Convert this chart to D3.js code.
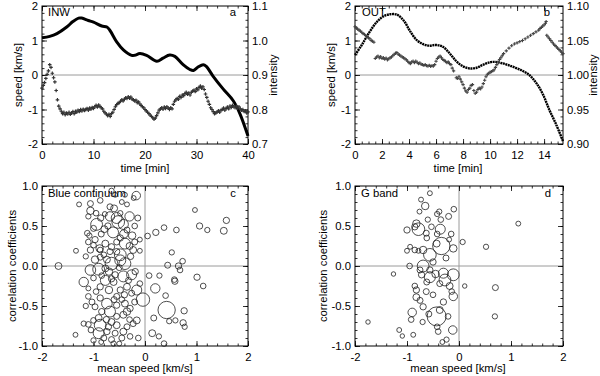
<!DOCTYPE html>
<html><head><meta charset="utf-8">
<script src="https://cdn.jsdelivr.net/npm/d3@7"></script>
<style>
body{margin:0;background:#fff}
svg{display:block}
text{font-family:"Liberation Sans",Arial,Helvetica,sans-serif;font-size:11.3px;fill:#000}
</style>
</head><body>
<svg id="chart" width="600" height="376"></svg>
<script>
// ---------------- DATA ----------------
// Panel a (INW): speed dots [time min, speed km/s]
const speedA = [[0,-0.38],[0.25,-0.3],[0.5,-0.22],[0.75,-0.1],[1,0.02],[1.25,0.12],[1.5,0.3],[1.75,0.22],[2,0.05],[2.25,-0.08],[2.5,-0.2],[2.75,-0.45],[3,-0.72],[3.25,-0.9],[3.5,-0.98],[3.75,-1.05],[4,-1.12],[4.25,-1.08],[4.5,-1.15],[4.75,-1.1],[5,-1.13],[5.25,-1.08],[5.5,-1.14],[5.75,-1.1],[6,-1.06],[6.25,-1.12],[6.5,-1.05],[6.75,-1.08],[7,-1.02],[7.25,-1.06],[7.5,-1],[7.75,-1.04],[8,-0.99],[8.25,-1.03],[8.5,-1],[8.75,-0.97],[9,-1.02],[9.25,-0.96],[9.5,-0.99],[9.75,-0.94],[10,-0.97],[10.25,-0.92],[10.5,-0.88],[10.75,-0.93],[11,-0.87],[11.25,-0.91],[11.5,-0.95],[11.75,-0.98],[12,-1.05],[12.25,-1.1],[12.5,-1.13],[12.75,-1.18],[13,-1.14],[13.25,-1.2],[13.5,-1.12],[13.75,-1.08],[14,-1],[14.25,-0.92],[14.5,-0.86],[14.75,-0.82],[15,-0.8],[15.25,-0.76],[15.5,-0.72],[15.75,-0.75],[16,-0.7],[16.25,-0.66],[16.5,-0.68],[16.75,-0.63],[17,-0.67],[17.25,-0.64],[17.5,-0.7],[17.75,-0.72],[18,-0.75],[18.25,-0.73],[18.5,-0.8],[18.75,-0.78],[19,-0.84],[19.25,-0.88],[19.5,-0.92],[19.75,-0.95],[20,-1],[20.25,-1.04],[20.5,-1.08],[20.75,-1.12],[21,-1.16],[21.25,-1.2],[21.5,-1.24],[21.75,-1.28],[22,-1.25],[22.25,-1.18],[22.5,-1.1],[22.75,-1.02],[23,-0.98],[23.25,-0.95],[23.5,-0.99],[23.75,-0.93],[24,-0.97],[24.25,-0.92],[24.5,-0.96],[24.75,-1],[25,-0.95],[25.25,-0.98],[25.5,-0.85],[25.75,-0.76],[26,-0.72],[26.25,-0.68],[26.5,-0.7],[26.75,-0.62],[27,-0.65],[27.25,-0.58],[27.5,-0.6],[27.75,-0.54],[28,-0.5],[28.25,-0.56],[28.5,-0.52],[28.75,-0.58],[29,-0.5],[29.25,-0.47],[29.5,-0.44],[29.75,-0.48],[30,-0.4],[30.25,-0.43],[30.5,-0.36],[30.75,-0.32],[31,-0.38],[31.25,-0.34],[31.5,-0.42],[31.75,-0.55],[32,-0.65],[32.25,-0.76],[32.5,-0.85],[32.75,-0.95],[33,-1],[33.25,-1.06],[33.5,-1.12],[33.75,-1.1],[34,-1.07],[34.25,-1.04],[34.5,-1.08],[34.75,-1.02],[35,-1],[35.25,-0.96],[35.5,-1.02],[35.75,-0.97],[36,-0.93],[36.25,-0.98],[36.5,-0.9],[36.75,-0.94],[37,-0.88],[37.25,-0.92],[37.5,-0.95],[37.75,-0.9],[38,-0.96],[38.25,-0.92],[38.5,-0.98],[38.75,-1.02],[39,-1],[39.25,-1.06],[39.5,-1.04],[39.75,-1.1],[40,-1.07]];
// Panel a: intensity curve [time, intensity]
const intensA = [[0,1.008],[1.5,1.012],[2.9,1.02],[4.8,1.039],[6,1.055],[7.1,1.065],[7.7,1.065],[9,1.058],[10,1.053],[11.6,1.042],[12.6,1.039],[13.2,1.029],[14.5,0.996],[15.8,0.973],[17.4,0.957],[18,0.957],[19,0.962],[20.3,0.957],[22.3,0.94],[23.5,0.949],[24.8,0.958],[25.8,0.954],[27.4,0.93],[28.7,0.916],[29.4,0.913],[30.3,0.923],[31.3,0.93],[31.9,0.925],[33.2,0.897],[35.2,0.859],[37.1,0.826],[38.4,0.789],[40,0.723]];

// Panel b (OUT): speed dots [time, speed]
const speedB = [[0,1.4],[0.1,1.36],[0.2,1.33],[0.3,1.3],[0.4,1.27],[0.5,1.24],[0.6,1.2],[0.7,1.18],[0.8,1.14],[0.9,1.1],[1,1.08],[1.1,1.05],[1.2,1.0],[1.3,0.98],[1.4,0.95],[1.5,0.48],[1.6,0.52],[1.7,0.55],[1.8,0.5],[1.9,0.53],[2,0.48],[2.1,0.5],[2.2,0.46],[2.3,0.49],[2.4,0.44],[2.5,0.47],[2.6,0.5],[2.7,0.52],[2.8,0.56],[2.9,0.6],[3,0.63],[3.1,0.65],[3.2,0.6],[3.3,0.58],[3.4,0.55],[3.5,0.52],[3.6,0.5],[3.7,0.47],[3.8,0.44],[3.9,0.4],[4,0.36],[4.1,0.33],[4.2,0.38],[4.3,0.4],[4.4,0.36],[4.5,0.4],[4.6,0.37],[4.7,0.33],[4.8,0.35],[4.9,0.31],[5,0.3],[5.1,0.28],[5.2,0.3],[5.3,0.27],[5.4,0.26],[5.5,0.28],[5.6,0.25],[5.7,0.27],[5.8,0.26],[5.9,0.3],[6,0.4],[6.1,0.48],[6.2,0.52],[6.3,0.55],[6.4,0.5],[6.5,0.45],[6.6,0.42],[6.7,0.4],[6.8,0.36],[6.9,0.38],[7,0.33],[7.1,0.3],[7.2,0.2],[7.3,0.12],[7.5,-0.08],[7.6,-0.1],[7.7,-0.05],[7.8,-0.12],[7.9,-0.2],[8,-0.28],[8.1,-0.38],[8.2,-0.46],[8.3,-0.5],[8.4,-0.42],[8.5,-0.38],[8.6,-0.3],[8.7,-0.28],[8.8,-0.45],[8.9,-0.53],[9,-0.5],[9.1,-0.42],[9.2,-0.38],[9.3,-0.4],[9.4,-0.35],[9.5,-0.25],[9.6,-0.15],[9.7,-0.05],[9.8,0.02],[9.9,0.05],[10,0.08],[10.1,0.1],[10.2,0.12],[10.3,0.15],[10.4,0.22],[10.5,0.3],[10.6,0.38],[10.7,0.45],[10.8,0.5],[10.9,0.56],[11,0.62],[11.2,0.7],[11.4,0.78],[11.6,0.85],[11.8,0.9],[12,0.93],[12.2,0.97],[12.4,1.0],[12.6,1.05],[12.8,1.1],[13,1.15],[13.2,1.2],[13.4,1.25],[13.6,1.3],[13.7,1.35],[13.8,1.38],[13.9,1.42],[14,1.45],[14.1,1.5],[14.15,1.55],[14.2,1.15],[14.3,1.1],[14.4,1.05],[14.5,1.0],[14.6,0.95],[14.7,0.9],[14.8,0.86],[14.9,0.82],[15,0.78],[15.1,0.74],[15.2,0.7],[15.3,0.66],[15.4,0.62]];
// Panel b: intensity curve [time, intensity]
const intensB = [[0,1.029],[0.5,1.0435],[1,1.06],[1.6,1.0765],[2.1,1.085],[2.6,1.088],[3.1,1.0875],[3.6,1.079],[4.05,1.0645],[4.5,1.052],[5,1.045],[5.5,1.0425],[6,1.0435],[6.5,1.041],[7,1.0315],[7.5,1.02],[8,1.0125],[8.5,1.0095],[9,1.0105],[9.5,1.015],[10,1.0185],[10.4,1.019],[10.9,1.017],[11.4,1.014],[12.2,1.008],[12.9,1.0],[13.4,0.989],[13.9,0.9725],[14.4,0.949],[14.9,0.928],[15.4,0.904]];

// Panel c (Blue continuum): [mean speed, correlation coefficient, area]
const blueCont = [[0.97,0.70,6],[0.37,0.48,8],[0.21,0.42,10],[0.05,0.375,8],[0.61,0.45,8],[1.06,0.50,10],[1.21,0.45,7],[1.53,0.44,12],[1.58,0.57,10],[0.52,0.17,7],[0.73,0.06,8],[0.44,0.01,9],[0.65,0.0,10],[0.68,-0.05,8],[0.08,-0.12,8],[0.28,-0.12,7],[0.57,-0.17,8],[0.58,-0.19,10],[1.01,-0.14,10],[1.13,-0.25,8],[0.2,-0.28,22],[0.4,-0.37,8],[0.42,-0.55,75],[0.76,-0.56,10],[0.17,-0.65,9],[0.47,-0.69,7],[0.59,-0.68,7],[0.74,-0.71,10],[0.77,-0.76,7],[0.14,-0.84,12],[0.27,-0.88,7],[0.37,-0.97,8],[-0.13,-0.9,8],[-0.16,-0.68,12],[-0.04,-0.42,45],[-1.68,0.0,12],[-1.34,0.19,6],[-1.28,0.77,6],[-1.35,-0.86,6],
[-1.06,0.78,9],[-0.87,0.82,8],[-0.65,0.94,7],[-0.58,0.89,6],[-0.39,0.89,6],[-0.17,0.88,18],[-0.22,0.85,6],[-0.68,0.74,9],[-0.45,0.8,6],
[-1.06,0.69,14],[-1.1,0.62,7],[-0.95,0.66,8],[-0.78,0.65,6],[-0.6,0.72,12],[-0.48,0.66,7],[-0.35,0.77,6],[-0.3,0.62,22],[-0.14,0.6,9],[-0.86,0.6,10],[-0.55,0.6,30],[-0.68,0.62,22],
[-0.94,0.52,35],[-0.79,0.46,12],[-0.62,0.42,30],[-0.42,0.52,25],[-0.35,0.45,9],[-0.41,0.4,18],[-0.25,0.38,14],[-1.12,0.41,8],[-1.08,0.38,7],[-1.0,0.47,9],[-0.52,0.55,40],[-0.72,0.5,10],[-0.2,0.5,8],[-0.85,0.4,9],
[-0.97,0.33,10],[-0.77,0.28,12],[-0.55,0.3,9],[-0.39,0.28,30],[-0.1,0.33,6],[-1.1,0.3,8],[-0.88,0.22,14],[-0.65,0.24,10],[-0.48,0.35,10],[-0.3,0.25,12],[-0.2,0.3,9],[-1.0,0.26,8],
[-1.06,0.2,10],[-0.87,0.2,8],[-0.68,0.18,9],[-0.48,0.14,35],[-0.23,0.2,12],[-0.1,0.19,6],[-0.97,0.08,14],[-0.87,0.11,9],[-0.74,0.08,12],[-0.65,0.03,40],[-0.48,0.07,30],[-0.39,0.03,35],[-0.28,0.12,10],[-0.8,0.14,8],[-1.15,0.12,7],[-0.55,0.18,10],
[-0.9,-0.04,35],[-1.06,-0.05,28],[-0.77,-0.03,12],[-0.58,-0.11,10],[-0.42,-0.13,30],[-0.26,-0.11,25],[-0.19,-0.07,10],[-0.7,-0.07,14],[-0.84,-0.12,8],[-1.0,-0.15,8],[-0.5,-0.02,9],[-0.32,-0.18,9],[-0.65,-0.16,10],
[-1.19,-0.2,22],[-1.1,-0.28,6],[-0.87,-0.26,10],[-0.77,-0.18,25],[-0.61,-0.2,12],[-0.48,-0.3,10],[-0.35,-0.26,12],[-0.16,-0.3,25],[-0.26,-0.34,9],[-0.95,-0.32,8],[-0.7,-0.3,14],[-0.55,-0.38,9],[-0.1,-0.22,8],[-0.4,-0.36,10],
[-1.1,-0.38,8],[-1.03,-0.45,9],[-0.87,-0.4,10],[-0.74,-0.47,28],[-0.55,-0.49,10],[-0.39,-0.47,12],[-0.35,-0.57,14],[-0.29,-0.53,10],[-0.68,-0.57,30],[-0.84,-0.57,10],[-0.97,-0.51,9],[-0.45,-0.42,8],[-0.2,-0.45,9],[-1.15,-0.5,7],[-0.6,-0.42,9],
[-0.9,-0.65,12],[-0.55,-0.63,9],[-0.42,-0.61,12],[-1.19,-0.72,7],[-1.1,-0.73,8],[-0.87,-0.74,35],[-0.71,-0.76,10],[-0.55,-0.74,12],[-0.35,-0.76,9],[-0.23,-0.72,9],[-1.0,-0.68,8],[-0.75,-0.67,10],[-0.3,-0.67,8],[-0.65,-0.7,12],
[-0.9,-0.84,30],[-0.74,-0.82,10],[-0.58,-0.84,9],[-0.42,-0.82,12],[-1.0,-0.93,7],[-0.65,-0.92,9],[-0.61,-0.97,7],[-0.45,-0.9,9],[-0.29,-0.88,8],[-0.8,-0.9,9],[-1.05,-0.8,8],[-0.85,-0.95,6],[-0.5,-0.97,6]];

// Panel d (G band): [mean speed, correlation coefficient, area]
const gBand = [[-0.56,0.91,6],[-0.73,0.83,6],[-0.65,0.75,14],[-0.76,0.68,6],[-0.38,0.68,7],[-0.42,0.65,7],[-0.1,0.71,8],[-0.2,0.62,9],[-0.35,0.58,8],[-0.82,0.53,14],[-0.85,0.49,10],[-0.78,0.46,40],[-1.0,0.45,10],[-0.53,0.49,8],[-0.36,0.46,25],[-0.63,0.41,9],[-0.42,0.4,8],[-0.15,0.4,8],[-0.19,0.33,6],[-0.34,0.25,75],[-0.43,0.28,12],[-0.94,0.24,6],[-1.0,0.19,6],[-0.85,0.2,8],[-0.78,0.19,6],[-0.69,0.2,14],[-0.56,0.14,40],[-0.11,0.22,14],[0.07,0.3,7],[0.52,0.24,7],[1.14,0.53,6],[-1.26,-0.1,5],[-0.69,0.0,35],[-0.56,-0.05,10],[-0.72,-0.11,10],[-0.56,-0.14,30],[-0.3,-0.09,25],[-0.27,-0.175,35],[-0.11,-0.11,35],[-0.37,-0.22,9],[-0.14,-0.32,8],[-0.11,-0.38,18],[0.11,-0.25,5],[0.7,-0.27,9],[-0.85,-0.25,8],[-0.82,-0.3,10],[-0.63,-0.32,9],[-0.5,-0.36,8],[-0.82,-0.39,12],[-0.75,-0.43,9],[-0.69,-0.51,10],[-0.9,-0.58,18],[-0.92,-0.67,8],[-0.43,-0.63,90],[-0.37,-0.55,12],[-0.42,-0.76,8],[-0.21,-0.63,8],[-0.12,-0.8,18],[-0.4,-0.82,8],[-0.24,-0.92,7],[-0.32,-0.95,6],[-1.15,-0.8,6],[-1.09,-0.875,5],[-0.88,-0.86,6],[-1.75,-0.7,5],[0.69,-0.63,7],[-0.62,-0.2,9],[-0.45,-0.1,14],[-0.75,-0.05,9],[-0.5,0.05,10],[-0.62,0.35,8],[-0.25,0.1,9],[-0.3,-0.45,10],[-0.58,-0.6,9],[-0.7,-0.7,7],[-0.18,-0.25,12],[-0.6,0.58,7],[-0.95,0.0,8]];

// Tick values
const timeTicksA = [0,10,20,30,40];
const timeTicksB = [0,2,4,6,8,10,12,14];
const speedTicks = [-2,-1,0,1,2];
const intensTicksA = [0.7,0.8,0.9,1.0,1.1];
const intensTicksB = [0.90,0.95,1.00,1.05,1.10];
const meanSpeedTicks = [-2,-1,0,1,2];
const corrTicks = [-1,-0.5,0,0.5,1];

// ---------------- DRAWING ----------------
const svg = d3.select("#chart");
const MAJ = 5, MIN = 2.5;
const fmtInt = d => String(d);
const fx = n => d => d.toFixed(n);

function range(a, b, s){ const out=[]; for(let v=a; v<=b+1e-9; v+=s) out.push(+v.toFixed(6)); return out; }

function frame(box, x, y, o){
  const g = svg.append("g");
  const W = box.x1-box.x0, H = box.y1-box.y0;
  if (o.zeroY) g.append("line").attr("x1",box.x0).attr("x2",box.x1).attr("y1",y(0)).attr("y2",y(0)).attr("stroke","#9a9a9a").attr("stroke-width",1);
  if (o.zeroX) g.append("line").attr("y1",box.y0).attr("y2",box.y1).attr("x1",x(0)).attr("x2",x(0)).attr("stroke","#9a9a9a").attr("stroke-width",1);
  const add = (axis, tx, ty) => {
    const a = g.append("g").attr("transform",`translate(${tx},${ty})`).call(axis);
    a.select(".domain").remove();
    a.selectAll("line").attr("stroke","#000").attr("stroke-width",0.8);
    a.selectAll("text").style("fill","#000");
    a.attr("font-size",null).attr("font-family",null);
    return a;
  };
  add(d3.axisBottom(x).tickValues(o.xMaj).tickSize(-MAJ).tickSizeOuter(0).tickPadding(7).tickFormat(o.xFmt), 0, box.y1);
  add(d3.axisBottom(x).tickValues(o.xMin).tickSize(-MIN).tickSizeOuter(0).tickFormat(""), 0, box.y1);
  add(d3.axisTop(x).tickValues(o.xMaj).tickSize(-MAJ).tickSizeOuter(0).tickFormat(""), 0, box.y0);
  add(d3.axisTop(x).tickValues(o.xMin).tickSize(-MIN).tickSizeOuter(0).tickFormat(""), 0, box.y0);
  add(d3.axisLeft(y).tickValues(o.yMaj).tickSize(-MAJ).tickSizeOuter(0).tickPadding(4).tickFormat(o.yFmt), box.x0, 0);
  add(d3.axisLeft(y).tickValues(o.yMin).tickSize(-MIN).tickSizeOuter(0).tickFormat(""), box.x0, 0);
  const ry = o.y2 || y;
  add(d3.axisRight(ry).tickValues(o.y2Maj || o.yMaj).tickSize(-MAJ).tickSizeOuter(0).tickPadding(4).tickFormat(o.y2 ? o.y2Fmt : ""), box.x1, 0);
  add(d3.axisRight(ry).tickValues(o.y2Min || o.yMin).tickSize(-MIN).tickSizeOuter(0).tickFormat(""), box.x1, 0);
  g.append("rect").attr("x",box.x0).attr("y",box.y0).attr("width",W).attr("height",H).attr("fill","none").attr("stroke","#000").attr("stroke-width",1);
  return g;
}

function rotLabel(txt, x, y){
  svg.append("text").attr("transform",`translate(${x},${y}) rotate(-90)`).attr("text-anchor","middle").attr("dy","0.35em").text(txt);
}
function label(txt, x, y, anchor){
  svg.append("text").attr("x",x).attr("y",y).attr("text-anchor",anchor||"start").text(txt);
}

// ---- Panel a ----
const boxA = {x0:42, x1:248, y0:6, y1:144};
const xA = d3.scaleLinear().domain([0,40]).range([boxA.x0, boxA.x1]);
const yA = d3.scaleLinear().domain([-2,2]).range([boxA.y1, boxA.y0]);
const y2A = d3.scaleLinear().domain([0.7,1.1]).range([boxA.y1, boxA.y0]);
frame(boxA, xA, yA, {zeroY:true, xMaj:timeTicksA, xMin:range(0,40,2), xFmt:fmtInt,
  yMaj:speedTicks, yMin:range(-2,2,0.2), yFmt:fmtInt, y2:y2A, y2Maj:intensTicksA, y2Min:range(0.7,1.1,0.02), y2Fmt:fx(1)});
svg.append("path").datum(intensA)
  .attr("d", d3.line().x(d=>xA(d[0])).y(d=>y2A(d[1])).curve(d3.curveCatmullRom))
  .attr("fill","none").attr("stroke","#000").attr("stroke-width",3);
svg.append("g").selectAll("path").data(speedA).join("path")
  .attr("transform", d=>`translate(${xA(d[0])},${yA(d[1])})`)
  .attr("d", d3.symbol(d3.symbolCross, 7)).attr("fill","#333");
label("INW", 48, 16); label("a", 236, 16, "end");
rotLabel("speed [km/s]", 18, 75);
rotLabel("intensity", 273, 75);
label("time [min]", 145, 172, "middle");

// ---- Panel b ----
const boxB = {x0:355, x1:563, y0:6, y1:144};
const xB = d3.scaleLinear().domain([0,15.4]).range([boxB.x0, boxB.x1]);
const yB = d3.scaleLinear().domain([-2,2]).range([boxB.y1, boxB.y0]);
const y2B = d3.scaleLinear().domain([0.9,1.1]).range([boxB.y1, boxB.y0]);
frame(boxB, xB, yB, {zeroY:true, xMaj:timeTicksB, xMin:range(0,15,0.5), xFmt:fmtInt,
  yMaj:speedTicks, yMin:range(-2,2,0.2), yFmt:fmtInt, y2:y2B, y2Maj:intensTicksB, y2Min:range(0.9,1.1,0.01), y2Fmt:fx(2)});
svg.append("path").datum(intensB)
  .attr("d", d3.line().x(d=>xB(d[0])).y(d=>y2B(d[1])).curve(d3.curveCatmullRom))
  .attr("fill","none").attr("stroke","#000").attr("stroke-width",2.4).attr("stroke-dasharray","2,0.6");
svg.append("g").selectAll("path").data(speedB).join("path")
  .attr("transform", d=>`translate(${xB(d[0])},${yB(d[1])})`)
  .attr("d", d3.symbol(d3.symbolCross, 6)).attr("fill","#444");
label("OUT", 362, 16); label("b", 550, 16, "end");
rotLabel("speed [km/s]", 331, 75);
rotLabel("intensity", 593, 75);
label("time [min]", 458, 172, "middle");

// ---- Panels c, d ----
const rScale = d3.scaleSqrt().domain([0,100]).range([0,10]);
function scatter(box, data, name, letter, labelX, titleX){
  const x = d3.scaleLinear().domain([-2,2]).range([box.x0, box.x1]);
  const y = d3.scaleLinear().domain([-1,1]).range([box.y1, box.y0]);
  frame(box, x, y, {zeroX:true, zeroY:true, xMaj:meanSpeedTicks, xMin:range(-2,2,0.2), xFmt:fmtInt,
    yMaj:corrTicks, yMin:range(-1,1,0.1), yFmt:fx(1)});
  svg.append("g").selectAll("circle").data(data).join("circle")
    .attr("cx", d=>x(d[0])).attr("cy", d=>y(d[1])).attr("r", d=>rScale(d[2]))
    .attr("fill","none").attr("stroke","#222").attr("stroke-width",0.8);
  label(name, box.x0+6, 197); label(letter, box.x1-12, 197, "end");
  rotLabel("correlation coefficients", labelX, 266);
  label("mean speed [km/s]", titleX, 372, "middle");
}
scatter({x0:42, x1:248, y0:186, y1:346}, blueCont, "Blue continuum", "c", 12, 145);
scatter({x0:355, x1:563, y0:186, y1:346}, gBand, "G band", "d", 323, 458);
</script>
</body></html>
